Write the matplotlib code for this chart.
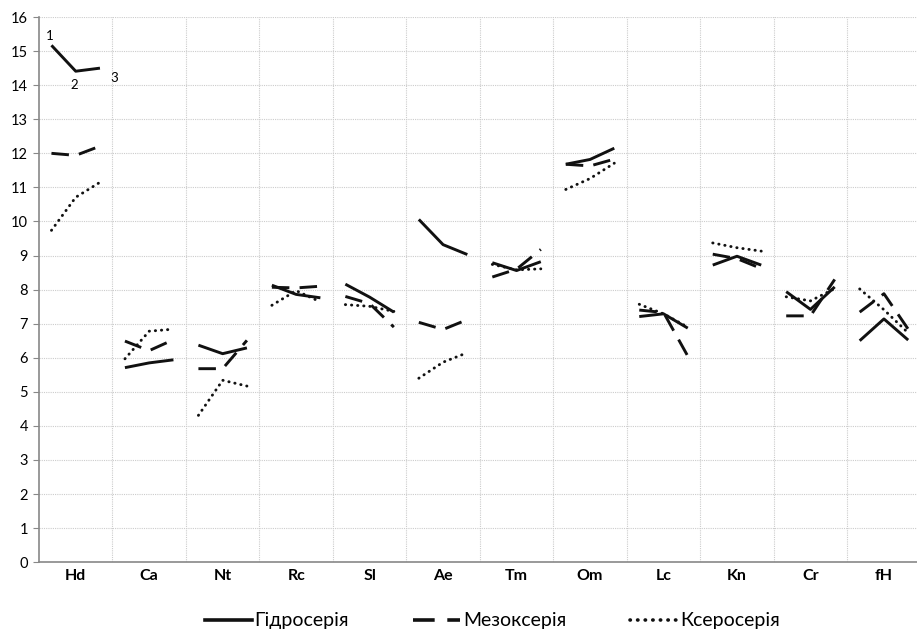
import numpy as np
from matplotlib import pyplot as plt
from matplotlib.lines import Line2D

plt.rcParams['font.family'] = ['Lato', 'DejaVu Sans']

groups = ["Hd", "Ca", "Nt", "Rc", "Sl", "Ae", "Tm", "Om", "Lc", "Kn", "Cr", "fH"]
series_names = ["Гідросерія", "Мезоксерія", "Ксеросерія"]

# three points (1, 2, 3) per group
hydro = [
    [15.17, 14.41, 14.50], [5.71, 5.85, 5.94], [6.37, 6.12, 6.29],
    [8.13, 7.86, 7.76], [8.16, 7.78, 7.34], [10.06, 9.32, 9.03],
    [8.79, 8.56, 8.82], [11.68, 11.82, 12.15], [7.21, 7.29, 6.87],
    [8.72, 8.98, 8.72], [7.94, 7.42, 8.08], [6.50, 7.14, 6.52],
]
meso = [
    [12.00, 11.94, 12.21], [6.49, 6.21, 6.53], [5.68, 5.68, 6.51],
    [8.07, 8.05, 8.10], [7.80, 7.59, 6.90], [7.04, 6.83, 7.12],
    [8.37, 8.60, 9.18], [11.68, 11.63, 11.83], [7.40, 7.33, 6.05],
    [9.04, 8.91, 8.62], [7.23, 7.23, 8.30], [7.34, 7.88, 6.84],
]
xero = [
    [9.74, 10.71, 11.15], [5.97, 6.78, 6.84], [4.31, 5.34, 5.17],
    [7.54, 7.97, 7.64], [7.56, 7.51, 7.36], [5.40, 5.87, 6.15],
    [8.74, 8.58, 8.61], [10.94, 11.26, 11.71], [7.57, 7.29, 6.90],
    [9.37, 9.23, 9.13], [7.79, 7.67, 8.03], [8.02, 7.41, 6.73],
]

offsets = np.array([0.17, 0.5, 0.83])
styles = [
    dict(linestyle="-"),
    dict(linestyle=(0, (6, 3.5))),
    dict(linestyle=(0, (0.1, 2.0)), dash_capstyle="round"),
]

fig = plt.figure(figsize=(9.17, 6.31), dpi=100)
ax = fig.add_axes([0.0425, 0.109, 0.9575, 0.864])

for data, st in zip([hydro, meso, xero], styles):
    for i, vals in enumerate(data):
        ax.plot(i + offsets, vals, color="#111111", lw=2.1,
                solid_capstyle="butt", **st)

ax.set_ylim(0, 16)
ax.set_xlim(0, 11.95)
ax.set_yticks(range(0, 17))
ax.set_xticks(np.arange(len(groups)) + 0.5)
ax.set_xticklabels(groups, fontweight="bold", fontsize=11.5)
ax.tick_params(axis="x", length=0, pad=5)
ax.tick_params(axis="y", length=4, color="#888888", labelsize=10.5, pad=4)

for y in range(1, 17):
    ax.axhline(y, color="#cccccc", lw=0.8, linestyle=(0, (1, 1)), zorder=0)
for xb in range(1, 12):
    ax.axvline(xb, color="#cccccc", lw=0.8, linestyle=(0, (1, 1)), zorder=0)

for side in ["top", "right"]:
    ax.spines[side].set_visible(False)
for side in ["left", "bottom"]:
    ax.spines[side].set_color("#888888")
    ax.spines[side].set_linewidth(1.2)

# point numbers on the first group
ax.text(0.15, 15.45, "1", fontsize=9.5, ha="center", va="center")
ax.text(0.48, 14.0, "2", fontsize=9.5, ha="center", va="center")
ax.text(1.03, 14.2, "3", fontsize=9.5, ha="center", va="center")

handles = [Line2D([], [], color="#111111", lw=2.6, **st) for st in styles]
fig.legend(handles, series_names, loc="center", bbox_to_anchor=(0.537, 0.016),
           ncol=3, frameon=False, fontsize=14, handlelength=2.4,
           handletextpad=0.15, columnspacing=3.3)

fig.savefig("out.png", dpi=100)
